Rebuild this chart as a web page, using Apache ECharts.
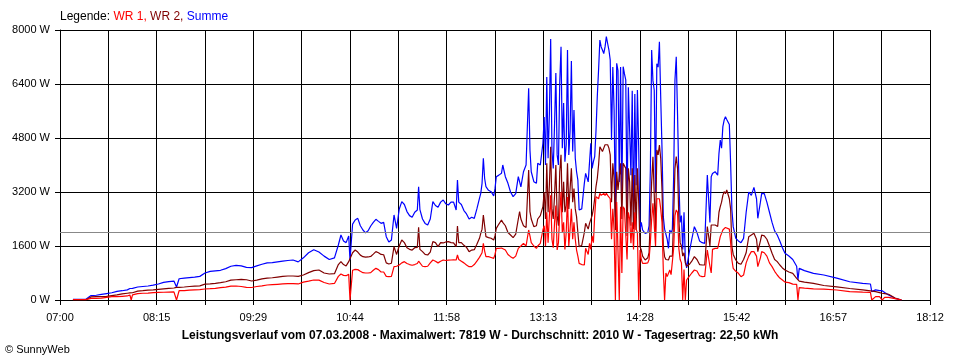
<!DOCTYPE html>
<html>
<head>
<meta charset="utf-8">
<script src="https://cdn.jsdelivr.net/npm/echarts@6/dist/echarts.min.js"></script>
<style>
html,body{margin:0;padding:0;background:#fff;}
#chart{width:960px;height:360px;}
</style>
</head>
<body>
<div id="chart"></div>
<script>
const times = [
'07:10','07:20','07:24','07:28','07:32','07:36','07:40','07:44','07:48','07:52',
'07:54','07:55','07:56','08:00','08:04','08:08','08:12','08:16','08:20','08:24',
'08:28','08:30','08:32','08:36','08:40','08:44','08:48','08:52','08:56','09:00',
'09:04','09:08','09:12','09:16','09:20','09:24','09:28','09:32','09:36','09:40',
'09:44','09:48','09:52','09:56','10:00','10:04','10:08','10:12','10:16','10:20',
'10:24','10:28','10:32','10:35','10:37','10:39','10:41','10:43','10:44','10:46',
'10:48','10:50','10:52','10:54','10:56','10:58','11:00','11:02','11:04','11:06',
'11:08','11:10','11:12','11:14','11:16','11:18','11:20','11:22','11:24','11:26',
'11:28','11:30','11:32','11:34','11:36','11:37','11:38','11:40','11:42','11:44',
'11:46','11:48','11:50','11:52','11:54','11:56','11:58','12:00','12:02','12:04',
'12:06','12:07','12:08','12:10','12:12','12:14','12:16','12:18','12:20','12:22',
'12:24','12:25','12:26','12:27','12:28','12:29','12:31','12:33','12:35','12:36',
'12:37','12:39','12:41','12:42','12:44','12:46','12:48','12:50','12:52','12:54',
'12:55','12:56','12:58','13:00','13:01','13:02','13:03','13:04','13:06','13:08',
'13:09','13:11','13:13','13:14','13:15','13:16','13:17','13:18','13:19','13:20',
'13:21','13:22','13:23','13:24','13:25','13:26','13:27','13:28','13:29','13:30',
'13:31','13:32','13:33','13:34','13:35','13:36','13:37','13:38','13:39','13:40',
'13:41','13:43','13:45','13:46','13:48','13:49','13:50','13:51','13:52','13:53',
'13:54','13:55','13:56','13:57','13:58','13:59','14:00','14:01','14:02','14:03',
'14:04','14:05','14:06','14:07','14:08','14:09','14:10','14:11','14:12','14:13',
'14:14','14:15','14:16','14:17','14:18','14:19','14:20','14:21','14:22','14:23',
'14:24','14:25','14:26','14:27','14:28','14:29','14:30','14:32','14:34','14:35',
'14:36','14:37','14:38','14:39','14:40','14:41','14:42','14:43','14:44','14:45',
'14:46','14:47','14:48','14:49','14:50','14:51','14:52','14:53','14:54','14:55',
'14:56','14:57','14:58','14:59','15:00','15:01','15:02','15:03','15:04','15:06',
'15:08','15:10','15:12','15:14','15:16','15:18','15:20','15:21','15:22','15:23',
'15:24','15:26','15:28','15:29','15:30','15:31','15:32','15:33','15:34','15:35',
'15:37','15:38','15:39','15:40','15:42','15:44','15:46','15:48','15:50','15:52',
'15:54','15:56','15:58','15:59','16:01','16:02','16:04','16:06','16:08','16:10',
'16:12','16:14','16:16','16:18','16:20','16:23','16:26','16:29','16:30','16:31',
'16:35','16:42','16:50','17:00','17:10','17:20','17:26','17:27','17:30','17:33',
'17:35','17:37','17:40','17:45','17:50'
];

const summe = [
20,20,130,140,165,190,215,255,275,300,
340,340,345,385,400,415,440,475,520,545,
560,385,630,650,665,680,700,800,850,865,
880,930,1000,1025,1010,965,960,1010,1060,1100,
1110,1130,1150,1170,1185,1130,1250,1400,1490,1420,
1300,1200,1250,1630,1926,1750,1700,1896,1185,2250,
2370,2420,2200,2074,1990,2050,2193,2300,2390,2330,
2272,2300,1877,1720,1780,2519,2124,2687,2914,2830,
2620,2500,2450,2600,2667,3357,2680,2400,2270,2222,
2400,2914,2800,2746,2900,2963,2850,2815,2900,2900,
2667,3556,2900,2830,2650,2550,2400,2450,2420,2700,
3012,3160,3457,4200,3600,3357,3250,3210,3081,3300,
3654,3700,3753,4000,3654,3457,3200,3062,3150,3654,
3600,3350,3800,4000,3950,6272,4444,3800,3506,3457,
4049,4000,4642,5422,4000,6607,4200,5500,7733,4400,
3900,5200,6726,4300,4000,6430,7500,4500,5837,4100,
4600,7407,4300,5000,7082,4400,5630,4200,3800,3556,
2667,2700,3457,3753,3500,3556,4642,3900,4100,4247,
5000,6025,6815,7704,7500,7407,7300,7500,7802,7600,
7407,7111,4741,6900,5630,2469,7012,6800,3500,6900,
2963,6914,6700,6519,2568,6300,5000,3700,6200,2272,
6100,3400,6222,4500,2074,2300,2074,1975,2000,2200,
3852,7407,6500,6222,3200,7000,6900,7654,6000,4500,
2469,2100,2074,1800,1531,2074,1975,2100,3654,6519,
7210,5500,3600,2300,2500,1500,2600,1200,950,1400,
1800,2173,2000,1750,1699,1680,3704,3700,2300,3650,
3750,3802,3700,4346,4741,4500,5136,5333,5432,5350,
5200,4049,2667,2173,1827,1750,1699,1827,2600,3200,
3100,3338,3000,2420,2900,3160,3150,2900,2600,2300,
2050,1926,1750,1550,1383,1304,1200,1000,593,938,
869,790,740,650,540,490,474,247,300,280,
276,220,150,50,0
];

const wr2 = [
10,10,90,100,100,110,130,150,180,200,
210,210,215,265,275,290,300,315,330,345,
355,376,376,385,400,410,420,470,480,495,
513,540,590,600,610,600,563,590,625,650,
660,680,700,711,711,700,740,810,870,889,
800,770,780,1050,1136,1050,1010,1136,1100,1400,
1481,1420,1330,1284,1270,1275,1290,1360,1432,1400,
1350,1340,1100,1067,1090,1580,1350,1600,1778,1700,
1550,1501,1480,1550,1560,2153,1500,1432,1350,1333,
1420,1728,1700,1580,1700,1690,1720,1728,1700,1690,
1580,2193,1700,1700,1620,1560,1432,1480,1490,1650,
1827,1975,2100,2519,2200,1877,1850,1830,1778,1900,
2124,2250,2370,2300,2200,2000,1926,1850,1950,2400,
2617,2400,2200,2150,2200,3852,2617,2400,2173,2200,
2400,2500,2765,3200,2400,4049,2600,3400,4543,2700,
2400,3100,4000,2500,2200,3800,4300,2600,3500,2600,
2800,4049,2700,3300,3900,2900,3300,2700,2469,2000,
1580,1620,2000,2272,2100,2272,2300,2500,2700,3000,
3357,3600,4000,4543,4500,4400,4500,4600,4642,4600,
4500,4300,2900,4049,3600,2074,3800,3259,3300,4049,
2400,4049,4000,3900,1900,3900,3500,2200,3900,2100,
3700,2074,3900,2900,1580,1481,1300,1185,1250,1400,
2469,3500,4247,4300,2000,4444,4300,4593,4200,3259,
1600,1284,1200,1185,1185,1300,1284,1300,2469,3900,
4247,3900,2400,1700,1600,1300,1400,1100,1000,1050,
1150,1284,1200,1050,1037,1037,2173,1900,1600,2222,
2222,2222,2180,2600,2765,2900,3100,3210,3150,3259,
3000,2700,1580,1350,1185,1086,1060,1200,1400,1877,
1926,1975,1800,1432,1750,1926,1900,1800,1600,1383,
1200,1136,1037,950,889,830,790,642,600,560,
530,494,430,390,340,300,270,250,250,220,
200,190,170,60,0
];

const wr1 = [
10,10,50,50,55,80,100,100,110,120,
148,0,150,190,200,205,220,228,230,235,
240,0,275,280,290,300,310,326,335,345,
365,380,410,415,400,376,370,400,420,444,
455,465,475,484,484,475,530,560,593,590,
520,474,490,700,770,730,720,760,0,880,
909,900,850,810,800,800,810,880,938,900,
830,830,700,692,700,988,1000,1037,1100,1136,
1080,1050,1030,1050,1080,1150,1136,1000,988,1000,
1100,1185,1150,1100,1150,1185,1170,1180,1185,1190,
1185,1333,1200,1150,1100,1037,988,988,1050,1150,
1264,1284,1400,1679,1450,1284,1284,1260,1235,1350,
1531,1531,1540,1550,1480,1350,1284,1235,1300,1531,
1550,1600,1679,1600,1650,2074,1900,1700,1600,1530,
1600,1679,2074,2200,1600,2600,1700,2500,3100,1800,
1550,2300,2800,1481,1700,2600,3200,2000,2300,1500,
2000,3050,1600,2100,2700,1800,2300,1800,1481,1300,
1086,1050,1037,1531,1350,1679,1500,1900,1700,2500,
3062,3100,3000,3160,3100,3062,3160,3100,3160,3100,
3050,3000,1800,2700,2074,0,2900,2900,0,2765,
800,2765,2700,2650,1200,2600,2400,1679,2300,1500,
2600,2100,2000,0,1481,1200,1086,1086,1100,1200,
1700,2400,2864,2900,1600,3000,3000,3000,2700,2300,
889,0,800,692,692,889,750,750,1531,2500,
2667,2600,1531,1200,1100,0,900,0,593,700,
800,889,860,720,692,700,1481,1500,1000,800,
1500,1531,1531,1700,1877,1900,2074,2124,2150,2173,
2100,1700,1185,938,850,790,692,740,1100,1300,
1432,1432,1300,988,1250,1432,1400,1300,1100,988,
850,741,650,593,530,514,470,464,0,365,
350,330,320,296,250,232,228,0,100,100,
0,80,80,40,0
];

const tickLabels = ['07:00','08:15','09:29','10:44','11:58','13:13','14:28','15:42','16:57','18:12'];
const yTicks = [0, 1600, 3200, 4800, 6400, 8000];
const average = 2010;
const titleText = 'Leistungsverlauf vom 07.03.2008 - Maximalwert: 7819 W - Durchschnitt: 2010 W - Tagesertrag: 22,50 kWh';

const FONT = '"Liberation Sans", Arial, sans-serif';
const spanSec = (11 * 60 + 12) * 60;      // 07:00 -> 18:12
const stepSec = spanSec / 18;            // grid step

function toSec(t) { const p = t.split(':').map(Number); return (p[0] - 7) * 3600 + p[1] * 60; }
function pairs(arr) { return times.map((t, i) => [toSec(t), arr[i]]); }

const chart = echarts.init(document.getElementById('chart'), null, { renderer: 'canvas' });
chart.setOption({
  animation: false,
  backgroundColor: '#ffffff',
  grid: { left: 60, right: 30, top: 30, bottom: 60, containLabel: false },
  xAxis: {
    type: 'value', min: 0, max: spanSec, interval: stepSec,
    axisLine: { show: true, lineStyle: { color: '#000', width: 1 } },
    axisTick: { show: true, length: 5, lineStyle: { color: '#000' } },
    splitLine: { show: true, lineStyle: { color: '#000', width: 1 } },
    axisLabel: {
      color: '#000', fontSize: 11, fontFamily: FONT, margin: 12,
      showMinLabel: true, showMaxLabel: true,
      formatter: function (v) {
        const k = Math.round(v / stepSec);
        return (k % 2 === 0) ? (tickLabels[k / 2] || '') : '';
      }
    }
  },
  yAxis: {
    type: 'value', min: yTicks[0], max: yTicks[yTicks.length - 1], interval: yTicks[1] - yTicks[0],
    axisLine: { show: true, lineStyle: { color: '#000', width: 1 } },
    axisTick: { show: true, length: 5, lineStyle: { color: '#000' } },
    splitLine: { show: true, lineStyle: { color: '#000', width: 1 } },
    axisLabel: { color: '#000', fontSize: 11, fontFamily: FONT, margin: 10, formatter: v => v + ' W' }
  },
  graphic: [
    {
      type: 'text', left: 60, top: 11,
      style: {
        text: '{k|Legende: }{a|WR 1, }{b|WR 2, }{c|Summe}',
        font: '12px ' + FONT,
        rich: {
          k: { fill: '#000', fontSize: 12, fontFamily: FONT },
          a: { fill: '#ff0000', fontSize: 12, fontFamily: FONT },
          b: { fill: '#800000', fontSize: 12, fontFamily: FONT },
          c: { fill: '#0000ff', fontSize: 12, fontFamily: FONT }
        }
      }
    },
    {
      type: 'text', left: 'center', top: 330,
      style: { text: titleText, fill: '#000', font: 'bold 12px ' + FONT }
    },
    {
      type: 'text', left: 5, top: 344,
      style: { text: '\u00A9 SunnyWeb', fill: '#000', font: '11px ' + FONT }
    }
  ],
  series: [
    {
      name: 'Summe', type: 'line', data: pairs(summe), showSymbol: false, symbol: 'none',
      lineStyle: { color: '#0000ff', width: 1.2 }, itemStyle: { color: '#0000ff' }, z: 2,
      markLine: {
        silent: true, symbol: ['none', 'none'], label: { show: false },
        lineStyle: { color: '#888888', width: 1, type: 'solid' },
        data: [{ yAxis: average }]
      }
    },
    {
      name: 'WR 2', type: 'line', data: pairs(wr2), showSymbol: false, symbol: 'none',
      lineStyle: { color: '#800000', width: 1.2 }, itemStyle: { color: '#800000' }, z: 3
    },
    {
      name: 'WR 1', type: 'line', data: pairs(wr1), showSymbol: false, symbol: 'none',
      lineStyle: { color: '#ff0000', width: 1.2 }, itemStyle: { color: '#ff0000' }, z: 4
    }
  ]
});
</script>
</body>
</html>
